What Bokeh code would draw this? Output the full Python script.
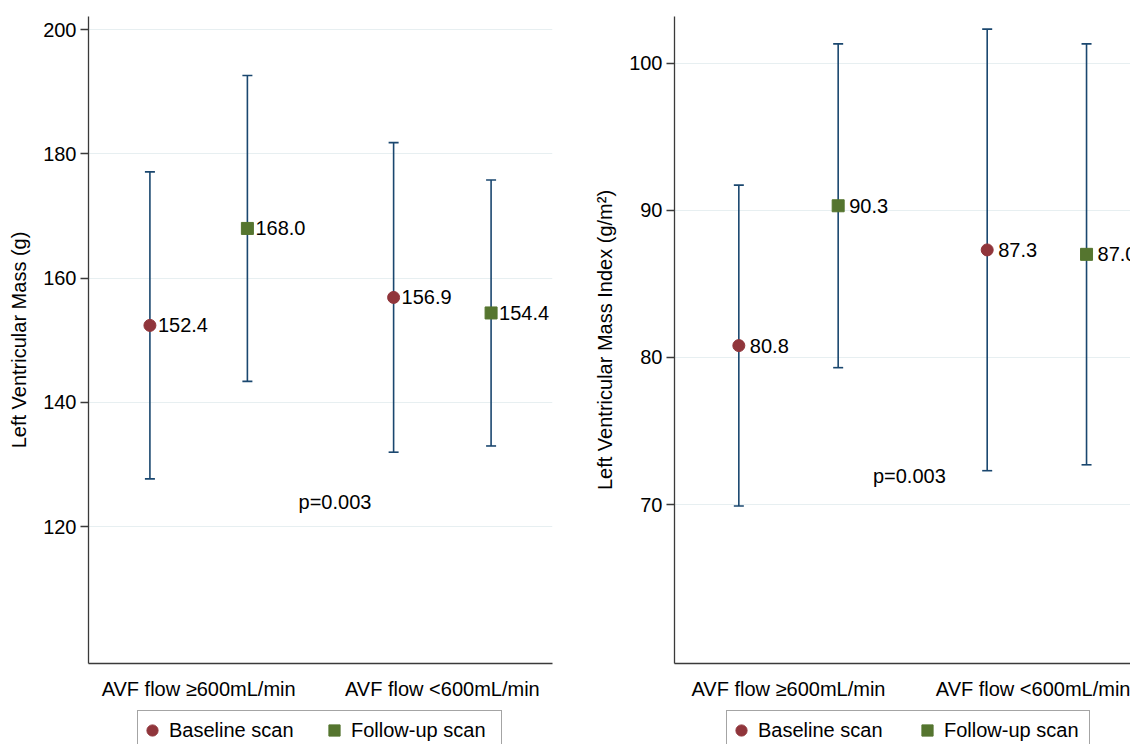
from bokeh.plotting import figure
from bokeh.layouts import row, column
from bokeh.models import (ColumnDataSource, Whisker, TeeHead, FixedTicker,
                          Legend, LegendItem, Label)
from bokeh.core.properties import value
from bokeh.embed import file_html
from bokeh.resources import INLINE

# ---------------- data ----------------
groups = ["AVF flow \u2265600mL/min", "AVF flow <600mL/min"]
series = ["Baseline scan", "Follow-up scan"]

lvm_base_mean = [152.4, 156.9]
lvm_base_lo = [127.7, 132.0]
lvm_base_hi = [177.1, 181.8]
lvm_fu_mean = [168.0, 154.4]
lvm_fu_lo = [143.4, 133.0]
lvm_fu_hi = [192.6, 175.8]

lvmi_base_mean = [80.8, 87.3]
lvmi_base_lo = [69.9, 72.3]
lvmi_base_hi = [91.7, 102.3]
lvmi_fu_mean = [90.3, 87.0]
lvmi_fu_lo = [79.3, 72.7]
lvmi_fu_hi = [101.3, 101.3]

lvm_ticks = [120, 140, 160, 180, 200]
lvmi_ticks = [70, 80, 90, 100]
p_text = "p=0.003"

# ---------------- style ----------------
FONT = "Liberation Sans"
FS = "20px"
NAVY = "#1a476f"
MAROON = "#90353b"
GREEN = "#55752f"
AXIS = "#3a3a3a"
GRID = "#e7eff1"
DODGE = 0.2
TOP_H = 710
LEG_H = 34


def make_panel(title, base_mean, base_lo, base_hi, fu_mean, fu_lo, fu_hi,
               ticks, x_range, y_range, width, mbl, mbr, mbb, lab_off, p_pos):
    p = figure(width=width, height=TOP_H, x_range=x_range, y_range=y_range,
               output_backend="svg", toolbar_location=None,
               min_border_left=mbl, min_border_right=mbr,
               min_border_top=16, min_border_bottom=mbb)
    p.outline_line_color = None
    p.background_fill_color = "white"
    p.border_fill_color = "white"

    gx = [i + 1 for i in range(len(groups))]
    xb = [g - DODGE for g in gx]
    xf = [g + DODGE for g in gx]

    src_b = ColumnDataSource(dict(x=xb, m=base_mean, lo=base_lo, hi=base_hi,
                                  t=[f"{v:.1f}" for v in base_mean]))
    src_f = ColumnDataSource(dict(x=xf, m=fu_mean, lo=fu_lo, hi=fu_hi,
                                  t=[f"{v:.1f}" for v in fu_mean]))

    for src in (src_b, src_f):
        w = Whisker(source=src, base="x", lower="lo", upper="hi",
                    dimension="height", line_color=NAVY, line_width=1.6,
                    upper_head=TeeHead(size=10, line_color=NAVY, line_width=1.6),
                    lower_head=TeeHead(size=10, line_color=NAVY, line_width=1.6))
        p.add_layout(w)

    p.scatter("x", "m", source=src_b, marker="circle", size=12,
              fill_color=MAROON, line_color=MAROON)
    p.scatter("x", "m", source=src_f, marker="square", size=12,
              fill_color=GREEN, line_color=GREEN)

    for src in (src_b, src_f):
        p.text("x", "m", text="t", source=src, x_offset=lab_off,
               text_align="left", text_baseline="middle",
               text_font=value(FONT), text_font_size=FS, text_color="black")

    p.add_layout(Label(x=p_pos[0], y=p_pos[1], text=p_text,
                       text_align="left", text_baseline="middle",
                       text_font=FONT, text_font_size=FS, text_color="black"))

    # axes
    p.yaxis.ticker = FixedTicker(ticks=ticks, minor_ticks=[])
    p.yaxis.axis_label = title
    p.yaxis.axis_label_text_font = FONT
    p.yaxis.axis_label_text_font_size = FS
    p.yaxis.axis_label_text_font_style = "normal"
    p.yaxis.axis_label_text_color = "black"
    p.yaxis.axis_label_standoff = 10
    p.yaxis.major_label_text_font = FONT
    p.yaxis.major_label_text_font_size = FS
    p.yaxis.major_label_text_color = "black"
    p.yaxis.major_label_standoff = 4
    p.yaxis.major_tick_out = 8
    p.yaxis.major_tick_in = 0
    p.yaxis.minor_tick_out = 0
    p.yaxis.minor_tick_in = 0
    p.yaxis.axis_line_color = AXIS
    p.yaxis.axis_line_width = 1.3
    p.yaxis.major_tick_line_color = AXIS
    p.yaxis.major_tick_line_width = 1.3

    p.xaxis.ticker = FixedTicker(ticks=gx, minor_ticks=[])
    p.xaxis.major_label_overrides = {g: lab for g, lab in zip(gx, groups)}
    p.xaxis.major_label_text_font = FONT
    p.xaxis.major_label_text_font_size = FS
    p.xaxis.major_label_text_color = "black"
    p.xaxis.major_label_standoff = 14
    p.xaxis.major_tick_out = 0
    p.xaxis.major_tick_in = 0
    p.xaxis.minor_tick_out = 0
    p.xaxis.minor_tick_in = 0
    p.xaxis.axis_line_color = AXIS
    p.xaxis.axis_line_width = 1.3

    p.xgrid.grid_line_color = None
    p.ygrid.grid_line_color = GRID
    p.ygrid.grid_line_width = 1.2
    return p, src_b, src_f


def make_legend(width, left, spacing, label_w, src_b, src_f):
    # legend strip below a panel; the series renderers fall outside its
    # (0, 1) ranges, so only the legend itself is visible
    lf = figure(width=width, height=LEG_H, x_range=(0, 1), y_range=(0, 1),
                output_backend="svg", toolbar_location=None,
                x_axis_location=None, y_axis_location=None, min_border=0)
    lf.outline_line_color = None
    lf.xgrid.grid_line_color = None
    lf.ygrid.grid_line_color = None
    rb = lf.scatter("x", "m", source=src_b, marker="circle",
                    fill_color=MAROON, line_color=MAROON)
    rf = lf.scatter("x", "m", source=src_f, marker="square",
                    fill_color=GREEN, line_color=GREEN)
    legend = Legend(items=[LegendItem(label=series[0], renderers=[rb]),
                           LegendItem(label=series[1], renderers=[rf])],
                    orientation="horizontal", location=(left, -6),
                    glyph_width=28, glyph_height=38, label_standoff=3,
                    label_width=label_w, spacing=spacing, padding=0, margin=0,
                    border_line_color="#4a4a4a", border_line_width=1.2,
                    background_fill_color="white", background_fill_alpha=1.0,
                    label_text_font=FONT, label_text_font_size=FS,
                    label_text_color="black")
    lf.add_layout(legend, "center")
    return lf


p1, b1, f1 = make_panel("Left Ventricular Mass (g)",
                        lvm_base_mean, lvm_base_lo, lvm_base_hi,
                        lvm_fu_mean, lvm_fu_lo, lvm_fu_hi,
                        lvm_ticks, (0.548, 2.452), (98.0, 202.1),
                        width=562, mbl=88, mbr=10, mbb=TOP_H - 663, lab_off=8,
                        p_pos=(1.41, 124.0))

p2, b2, f2 = make_panel("Left Ventricular Mass Index (g/m\u00b2)",
                        lvmi_base_mean, lvmi_base_lo, lvmi_base_hi,
                        lvmi_fu_mean, lvmi_fu_lo, lvmi_fu_hi,
                        lvmi_ticks, (0.541, 2.377), (59.2, 103.16),
                        width=568, mbl=112, mbr=0, mbb=TOP_H - 665, lab_off=11,
                        p_pos=(1.34, 71.96))

l1 = make_legend(562, 137, 1, 150, b1, f1)
l2 = make_legend(568, 164, 10, 145, b2, f2)

layout = column(row(p1, p2), row(l1, l2))
open("out.html", "w").write(file_html(layout, INLINE))
